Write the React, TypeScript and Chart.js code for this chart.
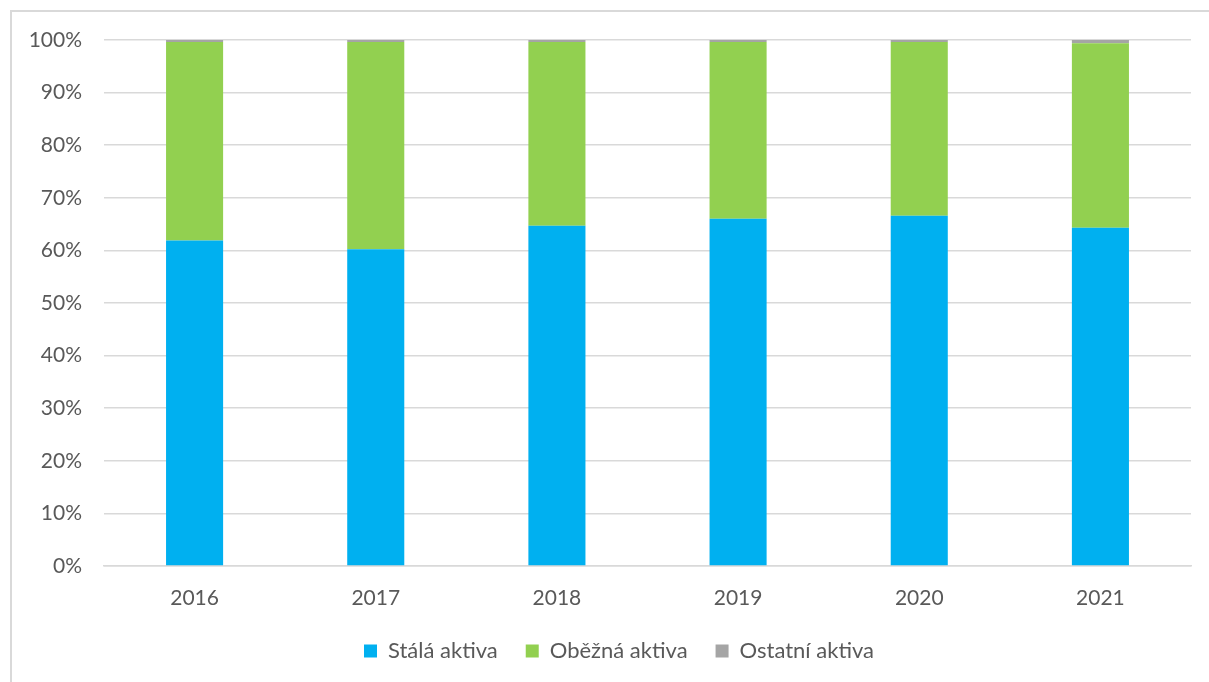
import React, { useEffect, useRef } from "react";
import { Chart, registerables } from "chart.js";

Chart.register(...registerables);

const categories = ["2016", "2017", "2018", "2019", "2020", "2021"];
const stala = [61.9, 60.2, 64.7, 66.0, 66.6, 64.3];
const ostatni = [0.4, 0.4, 0.4, 0.4, 0.4, 0.6];
const obezna = [37.7, 39.4, 34.9, 33.6, 33.0, 35.1];
const seriesNames = ["Stálá aktiva", "Oběžná aktiva", "Ostatní aktiva"];
const yTicks = [0, 10, 20, 30, 40, 50, 60, 70, 80, 90, 100];

export default function App() {
  const ref = useRef<HTMLCanvasElement | null>(null);
  useEffect(() => {
    if (!ref.current) return;
    const font = { family: "Lato, 'Open Sans', sans-serif", size: 21 };
    const legendFont = { family: "Lato, 'Open Sans', sans-serif", size: 22 };
    const chart = new Chart(ref.current, {
      type: "bar",
      data: {
        labels: categories,
        datasets: [
          { label: seriesNames[0], data: stala, backgroundColor: "#00b0f0" },
          { label: seriesNames[1], data: obezna, backgroundColor: "#92d050" },
          { label: seriesNames[2], data: ostatni, backgroundColor: "#a5a5a5" },
        ],
      },
      options: {
        animation: false,
        responsive: false,
        maintainAspectRatio: false,
        layout: { padding: { top: 40, bottom: 28, left: 0, right: 0 } },
        datasets: { bar: { categoryPercentage: 1, barPercentage: 0.315 } },
        plugins: {
          legend: {
            position: "bottom",
            labels: {
              color: "#595959",
              font: legendFont,
              boxWidth: 13,
              boxHeight: 13,
              padding: 28,
            },
          },
          tooltip: { enabled: false },
        },
        scales: {
          x: {
            stacked: true,
            grid: { display: false },
            border: { display: true, color: "#d9d9d9", width: 1.5 },
            ticks: { color: "#595959", font, padding: 12 },
            afterFit: (s: any) => {
              s.height = 46;
            },
          },
          y: {
            stacked: true,
            min: 0,
            max: 100,
            afterBuildTicks: (s: any) => {
              s.ticks = yTicks.map((v) => ({ value: v }));
            },
            grid: { color: "#d9d9d9", lineWidth: 1.5, drawTicks: false },
            border: { display: false },
            ticks: {
              color: "#595959",
              font,
              padding: 22,
              callback: (v: any) => v + "%",
            },
            afterFit: (s: any) => {
              s.width = 104;
            },
          },
          y2: {
            type: "linear",
            position: "right",
            display: true,
            grid: { display: false },
            border: { display: false },
            ticks: { display: false },
            afterFit: (s: any) => {
              s.width = 47;
            },
          },
        },
      },
    });
    return () => chart.destroy();
  }, []);
  return (
    <div
      style={{
        position: "fixed",
        left: 0,
        top: 0,
        width: 1209,
        height: 682,
        overflow: "hidden",
        background: "#fff",
      }}
    >
      <div
        style={{
          position: "absolute",
          left: 10,
          top: 10,
          width: 1300,
          height: 800,
          border: "2px solid #d9d9d9",
          boxSizing: "border-box",
        }}
      />
      <canvas
        ref={ref}
        width={1238}
        height={700}
        style={{ position: "absolute", left: 0, top: 0, width: 1238, height: 700 }}
      />
    </div>
  );
}
